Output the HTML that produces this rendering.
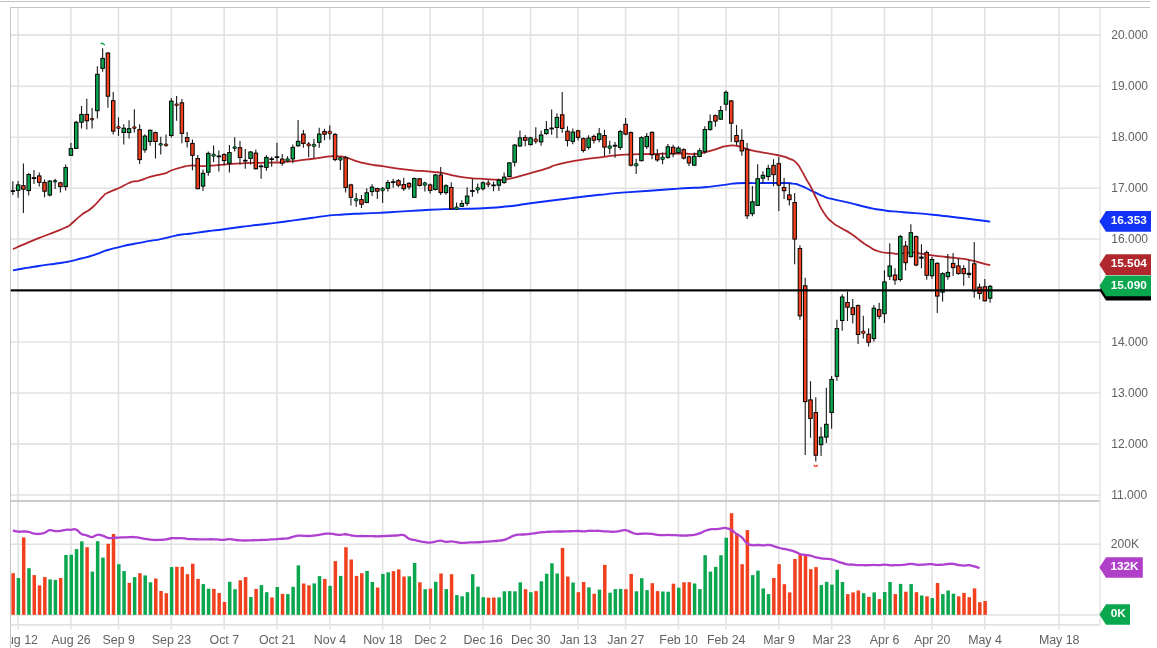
<!DOCTYPE html>
<html lang="en"><head><meta charset="utf-8"><title>Chart</title>
<style>html,body{margin:0;padding:0;background:#fff;overflow:hidden}body{width:1157px;height:648px}</style></head>
<body>
<svg width="1157" height="648" viewBox="0 0 1157 648" style="display:block;font-family:'Liberation Sans',sans-serif">
<rect width="1157" height="648" fill="#fff"/>
<rect x="0" y="1" width="1150" height="1" fill="#c6c6c6"/>
<g stroke="#e2e2e2" stroke-width="1.6">
<line x1="18.12" y1="8" x2="18.12" y2="629.6"/>
<line x1="70.94" y1="8" x2="70.94" y2="629.6"/>
<line x1="118.49" y1="8" x2="118.49" y2="629.6"/>
<line x1="171.31" y1="8" x2="171.31" y2="629.6"/>
<line x1="224.14" y1="8" x2="224.14" y2="629.6"/>
<line x1="276.96" y1="8" x2="276.96" y2="629.6"/>
<line x1="329.79" y1="8" x2="329.79" y2="629.6"/>
<line x1="382.61" y1="8" x2="382.61" y2="629.6"/>
<line x1="430.15" y1="8" x2="430.15" y2="629.6"/>
<line x1="482.98" y1="8" x2="482.98" y2="629.6"/>
<line x1="530.52" y1="8" x2="530.52" y2="629.6"/>
<line x1="578.06" y1="8" x2="578.06" y2="629.6"/>
<line x1="625.61" y1="8" x2="625.61" y2="629.6"/>
<line x1="678.43" y1="8" x2="678.43" y2="629.6"/>
<line x1="725.98" y1="8" x2="725.98" y2="629.6"/>
<line x1="778.8" y1="8" x2="778.8" y2="629.6"/>
<line x1="831.62" y1="8" x2="831.62" y2="629.6"/>
<line x1="884.45" y1="8" x2="884.45" y2="629.6"/>
<line x1="931.99" y1="8" x2="931.99" y2="629.6"/>
<line x1="984.82" y1="8" x2="984.82" y2="629.6"/>
<line x1="1059.0" y1="8" x2="1059.0" y2="629.6"/>
<line x1="10.5" y1="35.1" x2="1100" y2="35.1"/>
<line x1="10.5" y1="86.2" x2="1100" y2="86.2"/>
<line x1="10.5" y1="137.2" x2="1100" y2="137.2"/>
<line x1="10.5" y1="188.2" x2="1100" y2="188.2"/>
<line x1="10.5" y1="239.05" x2="1100" y2="239.05"/>
<line x1="10.5" y1="342.0" x2="1100" y2="342.0"/>
<line x1="10.5" y1="393" x2="1100" y2="393"/>
<line x1="10.5" y1="443.9" x2="1100" y2="443.9"/>
<line x1="10.5" y1="495.0" x2="1100" y2="495.0"/>
<line x1="10.5" y1="544.2" x2="1100" y2="544.2"/>
<line x1="10.5" y1="615" x2="1100" y2="615"/>
</g>
<g stroke="#c6c6c6" stroke-width="1" fill="none">
<line x1="10" y1="7.5" x2="1150" y2="7.5"/>
<line x1="10.5" y1="7" x2="10.5" y2="648"/>
<line x1="10" y1="501" x2="1100" y2="501" stroke-width="1.8" stroke="#cbcbcb"/>
</g>
<g stroke="#e2e2e2" stroke-width="1.3" fill="none">
<line x1="1100" y1="8" x2="1100" y2="625.3"/>
<line x1="10.5" y1="624.9" x2="1100" y2="624.9" stroke-width="1.8"/>
</g>
<defs><clipPath id="cp"><rect x="10.5" y="8" width="1089.5" height="617"/></clipPath></defs>
<g clip-path="url(#cp)">
<rect x="11.39" y="573.2" width="3.5" height="41.6" fill="#f0401e"/>
<rect x="16.67" y="578.0" width="3.5" height="36.8" fill="#0aa74f"/>
<rect x="21.95" y="537.4" width="3.5" height="77.4" fill="#f0401e"/>
<rect x="27.24" y="568.2" width="3.5" height="46.6" fill="#0aa74f"/>
<rect x="32.52" y="575.1" width="3.5" height="39.7" fill="#f0401e"/>
<rect x="37.80" y="585.4" width="3.5" height="29.4" fill="#f0401e"/>
<rect x="43.08" y="577.1" width="3.5" height="37.7" fill="#f0401e"/>
<rect x="48.36" y="579.4" width="3.5" height="35.4" fill="#0aa74f"/>
<rect x="53.65" y="579.9" width="3.5" height="34.9" fill="#0aa74f"/>
<rect x="58.93" y="578.0" width="3.5" height="36.8" fill="#f0401e"/>
<rect x="64.21" y="555.0" width="3.5" height="59.8" fill="#0aa74f"/>
<rect x="69.49" y="554.7" width="3.5" height="60.1" fill="#0aa74f"/>
<rect x="74.78" y="549.1" width="3.5" height="65.7" fill="#0aa74f"/>
<rect x="80.06" y="541.4" width="3.5" height="73.4" fill="#0aa74f"/>
<rect x="85.34" y="547.2" width="3.5" height="67.6" fill="#f0401e"/>
<rect x="90.62" y="571.6" width="3.5" height="43.2" fill="#0aa74f"/>
<rect x="95.91" y="541.2" width="3.5" height="73.6" fill="#0aa74f"/>
<rect x="101.19" y="557.6" width="3.5" height="57.2" fill="#0aa74f"/>
<rect x="106.47" y="543.8" width="3.5" height="71.0" fill="#f0401e"/>
<rect x="111.75" y="533.9" width="3.5" height="80.9" fill="#f0401e"/>
<rect x="117.04" y="564.2" width="3.5" height="50.6" fill="#0aa74f"/>
<rect x="122.32" y="571.1" width="3.5" height="43.7" fill="#0aa74f"/>
<rect x="127.60" y="582.8" width="3.5" height="32.0" fill="#f0401e"/>
<rect x="132.88" y="577.1" width="3.5" height="37.7" fill="#0aa74f"/>
<rect x="138.17" y="573.2" width="3.5" height="41.6" fill="#f0401e"/>
<rect x="143.45" y="575.4" width="3.5" height="39.4" fill="#0aa74f"/>
<rect x="148.73" y="582.3" width="3.5" height="32.5" fill="#0aa74f"/>
<rect x="154.02" y="578.5" width="3.5" height="36.3" fill="#f0401e"/>
<rect x="159.30" y="591.0" width="3.5" height="23.8" fill="#f0401e"/>
<rect x="164.58" y="593.2" width="3.5" height="21.6" fill="#f0401e"/>
<rect x="169.86" y="567.1" width="3.5" height="47.7" fill="#0aa74f"/>
<rect x="175.15" y="566.8" width="3.5" height="48.0" fill="#f0401e"/>
<rect x="180.43" y="566.8" width="3.5" height="48.0" fill="#f0401e"/>
<rect x="185.71" y="574.2" width="3.5" height="40.6" fill="#f0401e"/>
<rect x="190.99" y="563.7" width="3.5" height="51.1" fill="#f0401e"/>
<rect x="196.28" y="578.9" width="3.5" height="35.9" fill="#f0401e"/>
<rect x="201.56" y="584.1" width="3.5" height="30.7" fill="#0aa74f"/>
<rect x="206.84" y="588.7" width="3.5" height="26.1" fill="#0aa74f"/>
<rect x="212.12" y="588.9" width="3.5" height="25.9" fill="#f0401e"/>
<rect x="217.41" y="593.0" width="3.5" height="21.8" fill="#f0401e"/>
<rect x="222.69" y="601.9" width="3.5" height="12.9" fill="#f0401e"/>
<rect x="227.97" y="581.8" width="3.5" height="33.0" fill="#0aa74f"/>
<rect x="233.25" y="589.2" width="3.5" height="25.6" fill="#0aa74f"/>
<rect x="238.53" y="580.3" width="3.5" height="34.5" fill="#f0401e"/>
<rect x="243.82" y="577.1" width="3.5" height="37.7" fill="#f0401e"/>
<rect x="249.10" y="597.0" width="3.5" height="17.8" fill="#0aa74f"/>
<rect x="254.38" y="588.9" width="3.5" height="25.9" fill="#f0401e"/>
<rect x="259.66" y="585.1" width="3.5" height="29.7" fill="#0aa74f"/>
<rect x="264.95" y="592.2" width="3.5" height="22.6" fill="#0aa74f"/>
<rect x="270.23" y="597.4" width="3.5" height="17.4" fill="#f0401e"/>
<rect x="275.51" y="587.0" width="3.5" height="27.8" fill="#0aa74f"/>
<rect x="280.80" y="593.9" width="3.5" height="20.9" fill="#f0401e"/>
<rect x="286.08" y="594.1" width="3.5" height="20.7" fill="#0aa74f"/>
<rect x="291.36" y="586.8" width="3.5" height="28.0" fill="#0aa74f"/>
<rect x="296.64" y="565.4" width="3.5" height="49.4" fill="#0aa74f"/>
<rect x="301.93" y="583.5" width="3.5" height="31.3" fill="#f0401e"/>
<rect x="307.21" y="585.3" width="3.5" height="29.5" fill="#f0401e"/>
<rect x="312.49" y="583.4" width="3.5" height="31.4" fill="#0aa74f"/>
<rect x="317.77" y="576.1" width="3.5" height="38.7" fill="#0aa74f"/>
<rect x="323.06" y="578.9" width="3.5" height="35.9" fill="#f0401e"/>
<rect x="328.34" y="585.8" width="3.5" height="29.0" fill="#0aa74f"/>
<rect x="333.62" y="561.1" width="3.5" height="53.7" fill="#f0401e"/>
<rect x="338.90" y="575.9" width="3.5" height="38.9" fill="#0aa74f"/>
<rect x="344.19" y="547.2" width="3.5" height="67.6" fill="#f0401e"/>
<rect x="349.47" y="559.5" width="3.5" height="55.3" fill="#f0401e"/>
<rect x="354.75" y="575.9" width="3.5" height="38.9" fill="#f0401e"/>
<rect x="360.03" y="573.2" width="3.5" height="41.6" fill="#f0401e"/>
<rect x="365.31" y="570.9" width="3.5" height="43.9" fill="#0aa74f"/>
<rect x="370.60" y="582.0" width="3.5" height="32.8" fill="#0aa74f"/>
<rect x="375.88" y="587.5" width="3.5" height="27.3" fill="#f0401e"/>
<rect x="381.16" y="573.9" width="3.5" height="40.9" fill="#0aa74f"/>
<rect x="386.44" y="572.3" width="3.5" height="42.5" fill="#0aa74f"/>
<rect x="391.73" y="571.1" width="3.5" height="43.7" fill="#f0401e"/>
<rect x="397.01" y="569.4" width="3.5" height="45.4" fill="#f0401e"/>
<rect x="402.29" y="576.5" width="3.5" height="38.3" fill="#f0401e"/>
<rect x="407.57" y="576.3" width="3.5" height="38.5" fill="#0aa74f"/>
<rect x="412.86" y="563.0" width="3.5" height="51.8" fill="#0aa74f"/>
<rect x="418.14" y="582.3" width="3.5" height="32.5" fill="#f0401e"/>
<rect x="423.42" y="589.2" width="3.5" height="25.6" fill="#0aa74f"/>
<rect x="428.70" y="588.6" width="3.5" height="26.2" fill="#f0401e"/>
<rect x="433.99" y="581.8" width="3.5" height="33.0" fill="#0aa74f"/>
<rect x="439.27" y="573.5" width="3.5" height="41.3" fill="#f0401e"/>
<rect x="444.55" y="589.1" width="3.5" height="25.7" fill="#0aa74f"/>
<rect x="449.83" y="574.2" width="3.5" height="40.6" fill="#f0401e"/>
<rect x="455.12" y="595.1" width="3.5" height="19.7" fill="#0aa74f"/>
<rect x="460.40" y="596.3" width="3.5" height="18.5" fill="#0aa74f"/>
<rect x="465.68" y="592.2" width="3.5" height="22.6" fill="#0aa74f"/>
<rect x="470.96" y="574.2" width="3.5" height="40.6" fill="#0aa74f"/>
<rect x="476.25" y="586.7" width="3.5" height="28.1" fill="#0aa74f"/>
<rect x="481.53" y="597.2" width="3.5" height="17.6" fill="#0aa74f"/>
<rect x="486.81" y="597.7" width="3.5" height="17.1" fill="#f0401e"/>
<rect x="492.09" y="597.5" width="3.5" height="17.3" fill="#f0401e"/>
<rect x="497.38" y="597.4" width="3.5" height="17.4" fill="#0aa74f"/>
<rect x="502.66" y="591.3" width="3.5" height="23.5" fill="#0aa74f"/>
<rect x="507.94" y="591.1" width="3.5" height="23.7" fill="#0aa74f"/>
<rect x="513.22" y="591.3" width="3.5" height="23.5" fill="#0aa74f"/>
<rect x="518.51" y="582.3" width="3.5" height="32.5" fill="#0aa74f"/>
<rect x="523.79" y="589.2" width="3.5" height="25.6" fill="#f0401e"/>
<rect x="529.07" y="592.2" width="3.5" height="22.6" fill="#0aa74f"/>
<rect x="534.35" y="591.1" width="3.5" height="23.7" fill="#f0401e"/>
<rect x="539.64" y="581.3" width="3.5" height="33.5" fill="#0aa74f"/>
<rect x="544.92" y="573.7" width="3.5" height="41.1" fill="#0aa74f"/>
<rect x="550.20" y="563.3" width="3.5" height="51.5" fill="#0aa74f"/>
<rect x="555.48" y="573.5" width="3.5" height="41.3" fill="#0aa74f"/>
<rect x="560.77" y="547.9" width="3.5" height="66.9" fill="#f0401e"/>
<rect x="566.05" y="576.5" width="3.5" height="38.3" fill="#f0401e"/>
<rect x="571.33" y="582.5" width="3.5" height="32.3" fill="#0aa74f"/>
<rect x="576.61" y="592.2" width="3.5" height="22.6" fill="#f0401e"/>
<rect x="581.90" y="582.0" width="3.5" height="32.8" fill="#f0401e"/>
<rect x="587.18" y="587.3" width="3.5" height="27.5" fill="#0aa74f"/>
<rect x="592.46" y="593.7" width="3.5" height="21.1" fill="#f0401e"/>
<rect x="597.74" y="589.6" width="3.5" height="25.2" fill="#0aa74f"/>
<rect x="603.03" y="564.9" width="3.5" height="49.9" fill="#f0401e"/>
<rect x="608.31" y="592.7" width="3.5" height="22.1" fill="#0aa74f"/>
<rect x="613.59" y="589.1" width="3.5" height="25.7" fill="#0aa74f"/>
<rect x="618.87" y="588.9" width="3.5" height="25.9" fill="#0aa74f"/>
<rect x="624.16" y="589.2" width="3.5" height="25.6" fill="#f0401e"/>
<rect x="629.44" y="573.9" width="3.5" height="40.9" fill="#f0401e"/>
<rect x="634.72" y="591.3" width="3.5" height="23.5" fill="#0aa74f"/>
<rect x="640.00" y="578.2" width="3.5" height="36.6" fill="#0aa74f"/>
<rect x="645.29" y="590.1" width="3.5" height="24.7" fill="#0aa74f"/>
<rect x="650.57" y="583.2" width="3.5" height="31.6" fill="#f0401e"/>
<rect x="655.85" y="591.1" width="3.5" height="23.7" fill="#f0401e"/>
<rect x="661.13" y="591.5" width="3.5" height="23.3" fill="#0aa74f"/>
<rect x="666.42" y="591.7" width="3.5" height="23.1" fill="#0aa74f"/>
<rect x="671.70" y="583.7" width="3.5" height="31.1" fill="#f0401e"/>
<rect x="676.98" y="587.7" width="3.5" height="27.1" fill="#0aa74f"/>
<rect x="682.26" y="582.3" width="3.5" height="32.5" fill="#f0401e"/>
<rect x="687.55" y="582.2" width="3.5" height="32.6" fill="#f0401e"/>
<rect x="692.83" y="583.5" width="3.5" height="31.3" fill="#0aa74f"/>
<rect x="698.11" y="589.1" width="3.5" height="25.7" fill="#0aa74f"/>
<rect x="703.39" y="555.2" width="3.5" height="59.6" fill="#0aa74f"/>
<rect x="708.68" y="571.6" width="3.5" height="43.2" fill="#0aa74f"/>
<rect x="713.96" y="566.8" width="3.5" height="48.0" fill="#0aa74f"/>
<rect x="719.24" y="555.2" width="3.5" height="59.6" fill="#0aa74f"/>
<rect x="724.52" y="537.7" width="3.5" height="77.1" fill="#0aa74f"/>
<rect x="729.81" y="513.2" width="3.5" height="101.6" fill="#f0401e"/>
<rect x="735.09" y="533.4" width="3.5" height="81.4" fill="#f0401e"/>
<rect x="740.37" y="564.2" width="3.5" height="50.6" fill="#f0401e"/>
<rect x="745.65" y="530.1" width="3.5" height="84.7" fill="#f0401e"/>
<rect x="750.94" y="575.1" width="3.5" height="39.7" fill="#0aa74f"/>
<rect x="756.22" y="570.6" width="3.5" height="44.2" fill="#0aa74f"/>
<rect x="761.50" y="588.4" width="3.5" height="26.4" fill="#0aa74f"/>
<rect x="766.78" y="594.1" width="3.5" height="20.7" fill="#0aa74f"/>
<rect x="772.07" y="578.0" width="3.5" height="36.8" fill="#f0401e"/>
<rect x="777.35" y="564.2" width="3.5" height="50.6" fill="#f0401e"/>
<rect x="782.63" y="584.2" width="3.5" height="30.6" fill="#f0401e"/>
<rect x="787.91" y="592.4" width="3.5" height="22.4" fill="#f0401e"/>
<rect x="793.20" y="559.0" width="3.5" height="55.8" fill="#f0401e"/>
<rect x="798.48" y="554.7" width="3.5" height="60.1" fill="#f0401e"/>
<rect x="803.76" y="555.5" width="3.5" height="59.3" fill="#f0401e"/>
<rect x="809.04" y="569.2" width="3.5" height="45.6" fill="#f0401e"/>
<rect x="814.33" y="567.1" width="3.5" height="47.7" fill="#f0401e"/>
<rect x="819.61" y="585.1" width="3.5" height="29.7" fill="#0aa74f"/>
<rect x="824.89" y="581.8" width="3.5" height="33.0" fill="#0aa74f"/>
<rect x="830.17" y="584.6" width="3.5" height="30.2" fill="#0aa74f"/>
<rect x="835.46" y="569.7" width="3.5" height="45.1" fill="#0aa74f"/>
<rect x="840.74" y="582.0" width="3.5" height="32.8" fill="#0aa74f"/>
<rect x="846.02" y="594.1" width="3.5" height="20.7" fill="#f0401e"/>
<rect x="851.30" y="592.4" width="3.5" height="22.4" fill="#f0401e"/>
<rect x="856.59" y="590.5" width="3.5" height="24.3" fill="#f0401e"/>
<rect x="861.87" y="593.2" width="3.5" height="21.6" fill="#0aa74f"/>
<rect x="867.15" y="596.9" width="3.5" height="17.9" fill="#f0401e"/>
<rect x="872.43" y="592.4" width="3.5" height="22.4" fill="#0aa74f"/>
<rect x="877.72" y="599.1" width="3.5" height="15.7" fill="#f0401e"/>
<rect x="883.00" y="592.0" width="3.5" height="22.8" fill="#0aa74f"/>
<rect x="888.28" y="582.0" width="3.5" height="32.8" fill="#0aa74f"/>
<rect x="893.56" y="594.1" width="3.5" height="20.7" fill="#f0401e"/>
<rect x="898.85" y="583.9" width="3.5" height="30.9" fill="#0aa74f"/>
<rect x="904.13" y="591.7" width="3.5" height="23.1" fill="#f0401e"/>
<rect x="909.41" y="584.1" width="3.5" height="30.7" fill="#0aa74f"/>
<rect x="914.69" y="592.2" width="3.5" height="22.6" fill="#f0401e"/>
<rect x="919.98" y="595.5" width="3.5" height="19.3" fill="#0aa74f"/>
<rect x="925.26" y="596.3" width="3.5" height="18.5" fill="#f0401e"/>
<rect x="930.54" y="598.1" width="3.5" height="16.7" fill="#0aa74f"/>
<rect x="935.82" y="583.0" width="3.5" height="31.8" fill="#f0401e"/>
<rect x="941.11" y="594.1" width="3.5" height="20.7" fill="#0aa74f"/>
<rect x="946.39" y="590.5" width="3.5" height="24.3" fill="#0aa74f"/>
<rect x="951.67" y="593.7" width="3.5" height="21.1" fill="#0aa74f"/>
<rect x="956.95" y="596.3" width="3.5" height="18.5" fill="#f0401e"/>
<rect x="962.24" y="592.9" width="3.5" height="21.9" fill="#f0401e"/>
<rect x="967.52" y="597.2" width="3.5" height="17.6" fill="#f0401e"/>
<rect x="972.80" y="588.4" width="3.5" height="26.4" fill="#f0401e"/>
<rect x="978.08" y="602.2" width="3.5" height="12.6" fill="#f0401e"/>
<rect x="983.37" y="601.0" width="3.5" height="13.8" fill="#f0401e"/>
<path d="M12.84,530.47 C14.25,530.79 15.30,531.41 18.12,531.68 C20.94,531.96 20.59,531.46 23.40,531.51 C26.22,531.56 25.87,531.30 28.69,531.85 C31.50,532.41 31.15,533.03 33.97,533.58 C36.78,534.14 36.43,534.16 39.25,533.93 C42.07,533.70 41.72,533.73 44.53,532.72 C47.35,531.70 47.00,530.54 49.81,530.13 C52.63,529.71 52.28,530.98 55.10,531.16 C57.91,531.35 57.56,531.19 60.38,530.82 C63.20,530.45 62.85,530.06 65.66,529.78 C68.48,529.50 68.13,529.83 70.94,529.78 C73.76,529.73 73.41,528.50 76.23,529.61 C79.04,530.71 78.69,532.41 81.51,533.93 C84.33,535.45 83.98,534.48 86.79,535.31 C89.61,536.14 89.26,537.18 92.08,537.04 C94.89,536.90 94.54,535.16 97.36,534.79 C100.17,534.42 99.82,534.83 102.64,535.66 C105.46,536.49 105.11,537.31 107.92,537.90 C110.74,538.50 110.39,538.00 113.20,537.90 C116.02,537.81 115.67,537.70 118.49,537.56 C121.30,537.42 120.95,537.48 123.77,537.39 C126.59,537.29 126.24,537.31 129.05,537.21 C131.87,537.12 131.52,536.86 134.33,537.04 C137.15,537.23 136.80,537.44 139.62,537.90 C142.43,538.37 142.08,538.31 144.90,538.77 C147.72,539.23 147.37,539.31 150.18,539.63 C153.00,539.96 152.65,539.93 155.47,539.98 C158.28,540.03 157.93,539.94 160.75,539.81 C163.56,539.67 163.21,539.88 166.03,539.46 C168.85,539.05 168.50,538.57 171.31,538.25 C174.13,537.93 173.78,538.30 176.59,538.25 C179.41,538.20 179.06,537.94 181.88,538.08 C184.69,538.22 184.34,538.49 187.16,538.77 C189.98,539.05 189.63,538.98 192.44,539.11 C195.26,539.25 194.91,539.20 197.72,539.29 C200.54,539.38 200.19,539.46 203.01,539.46 C205.82,539.46 205.47,539.33 208.29,539.29 C211.11,539.24 210.76,539.20 213.57,539.29 C216.39,539.38 216.04,539.50 218.85,539.63 C221.67,539.77 221.32,539.94 224.14,539.81 C226.95,539.67 226.60,539.11 229.42,539.11 C232.24,539.11 231.89,539.48 234.70,539.81 C237.52,540.13 237.17,540.14 239.98,540.32 C242.80,540.51 242.45,540.50 245.27,540.50 C248.08,540.50 247.73,540.42 250.55,540.32 C253.37,540.23 253.02,540.24 255.83,540.15 C258.65,540.06 258.30,540.07 261.11,539.98 C263.93,539.89 263.58,539.94 266.40,539.81 C269.21,539.67 268.86,539.65 271.68,539.46 C274.50,539.28 274.15,539.30 276.96,539.11 C279.78,538.93 279.43,538.95 282.25,538.77 C285.06,538.58 284.71,538.93 287.53,538.42 C290.34,537.92 289.99,537.61 292.81,536.87 C295.63,536.13 295.28,535.93 298.09,535.66 C300.91,535.38 300.56,535.74 303.38,535.83 C306.19,535.92 305.84,536.05 308.66,536.00 C311.47,535.96 311.12,535.98 313.94,535.66 C316.76,535.34 316.41,535.25 319.22,534.79 C322.04,534.33 321.69,534.25 324.50,533.93 C327.32,533.61 326.97,533.49 329.79,533.58 C332.60,533.68 332.25,533.95 335.07,534.27 C337.89,534.60 337.54,534.79 340.35,534.79 C343.17,534.79 342.82,534.14 345.63,534.27 C348.45,534.41 348.10,534.80 350.92,535.31 C353.73,535.82 353.38,535.99 356.20,536.18 C359.02,536.36 358.67,536.00 361.48,536.00 C364.30,536.00 363.95,536.13 366.76,536.18 C369.58,536.22 369.23,536.13 372.05,536.18 C374.86,536.22 374.51,536.35 377.33,536.35 C380.15,536.35 379.80,536.31 382.61,536.18 C385.43,536.04 385.08,535.97 387.89,535.83 C390.71,535.69 390.36,535.80 393.18,535.66 C395.99,535.52 395.64,535.45 398.46,535.31 C401.28,535.17 400.93,534.22 403.74,535.14 C406.56,536.06 406.21,537.48 409.02,538.77 C411.84,540.06 411.49,539.33 414.31,539.98 C417.12,540.62 416.77,540.64 419.59,541.19 C422.41,541.74 422.06,541.68 424.87,542.05 C427.69,542.42 427.34,542.71 430.15,542.57 C432.97,542.43 432.62,542.04 435.44,541.54 C438.25,541.03 437.90,540.58 440.72,540.67 C443.54,540.76 443.19,541.70 446.00,541.88 C448.82,542.07 448.47,541.27 451.28,541.36 C454.10,541.45 453.75,541.81 456.57,542.23 C459.38,542.64 459.03,542.83 461.85,542.92 C464.67,543.01 464.32,542.71 467.13,542.57 C469.95,542.43 469.60,542.49 472.41,542.40 C475.23,542.31 474.88,542.36 477.70,542.23 C480.51,542.09 480.16,542.07 482.98,541.88 C485.80,541.70 485.45,541.72 488.26,541.54 C491.08,541.35 490.73,541.42 493.54,541.19 C496.36,540.96 496.01,540.99 498.83,540.67 C501.64,540.35 501.29,540.76 504.11,539.98 C506.93,539.20 506.58,538.98 509.39,537.73 C512.21,536.49 511.86,536.14 514.67,535.31 C517.49,534.48 517.14,534.85 519.96,534.62 C522.77,534.39 522.42,534.63 525.24,534.45 C528.06,534.26 527.71,534.30 530.52,533.93 C533.34,533.56 532.99,533.48 535.80,533.06 C538.62,532.65 538.27,532.70 541.09,532.37 C543.90,532.05 543.55,532.04 546.37,531.85 C549.19,531.67 548.84,531.77 551.65,531.68 C554.47,531.59 554.12,531.56 556.93,531.51 C559.75,531.46 559.40,531.56 562.22,531.51 C565.03,531.46 564.68,531.43 567.50,531.34 C570.32,531.24 569.97,531.26 572.78,531.16 C575.60,531.07 575.25,530.94 578.06,530.99 C580.88,531.04 580.53,531.38 583.35,531.34 C586.16,531.29 585.81,530.96 588.63,530.82 C591.45,530.68 591.10,530.82 593.91,530.82 C596.73,530.82 596.38,530.68 599.19,530.82 C602.01,530.96 601.66,531.11 604.48,531.34 C607.29,531.57 606.94,531.59 609.76,531.68 C612.58,531.77 612.23,531.91 615.04,531.68 C617.86,531.45 617.51,531.23 620.32,530.82 C623.14,530.40 622.79,529.76 625.61,530.13 C628.42,530.49 628.07,531.19 630.89,532.20 C633.71,533.21 633.36,533.51 636.17,533.93 C638.99,534.34 638.64,533.85 641.45,533.76 C644.27,533.66 643.92,533.54 646.74,533.58 C649.55,533.63 649.20,533.61 652.02,533.93 C654.84,534.25 654.49,534.47 657.30,534.79 C660.12,535.12 659.77,535.09 662.58,535.14 C665.40,535.19 665.05,534.97 667.87,534.97 C670.68,534.97 670.33,535.05 673.15,535.14 C675.97,535.23 675.62,535.17 678.43,535.31 C681.25,535.45 680.90,535.66 683.71,535.66 C686.53,535.66 686.18,535.54 689.00,535.31 C691.81,535.08 691.46,535.30 694.28,534.79 C697.10,534.29 696.75,534.42 699.56,533.41 C702.38,532.40 702.03,532.10 704.85,530.99 C707.66,529.88 707.31,529.77 710.13,529.26 C712.94,528.75 712.59,529.27 715.41,529.09 C718.23,528.90 717.88,528.85 720.69,528.57 C723.51,528.29 723.16,527.68 725.98,528.05 C728.79,528.42 728.44,528.39 731.26,529.95 C734.07,531.52 733.72,531.95 736.54,533.93 C739.36,535.91 739.01,534.85 741.82,537.39 C744.64,539.92 744.29,541.36 747.11,543.44 C749.92,545.51 749.57,544.75 752.39,545.17 C755.20,545.58 754.85,544.95 757.67,544.99 C760.49,545.04 760.14,545.38 762.95,545.34 C765.77,545.29 765.42,544.63 768.24,544.82 C771.05,545.00 770.70,545.25 773.52,546.03 C776.33,546.81 775.98,546.97 778.80,547.76 C781.62,548.54 781.27,548.37 784.08,548.97 C786.90,549.57 786.55,549.31 789.37,550.01 C792.18,550.70 791.83,550.50 794.65,551.56 C797.46,552.62 797.11,553.11 799.93,553.98 C802.75,554.86 802.40,554.38 805.21,554.85 C808.03,555.31 807.68,555.06 810.50,555.71 C813.31,556.35 812.96,556.57 815.78,557.27 C818.59,557.96 818.24,557.89 821.06,558.30 C823.88,558.72 823.53,558.54 826.34,558.82 C829.16,559.10 828.81,558.69 831.62,559.34 C834.44,559.99 834.09,560.27 836.91,561.24 C839.72,562.21 839.37,562.14 842.19,562.97 C845.01,563.80 844.66,563.94 847.47,564.35 C850.29,564.77 849.94,564.34 852.75,564.53 C855.57,564.71 855.22,564.86 858.04,565.04 C860.85,565.23 860.50,565.17 863.32,565.22 C866.14,565.26 865.79,565.31 868.60,565.22 C871.42,565.12 871.07,564.87 873.88,564.87 C876.70,564.87 876.35,565.26 879.17,565.22 C881.98,565.17 881.63,564.70 884.45,564.70 C887.27,564.70 886.92,565.08 889.73,565.22 C892.55,565.36 892.20,565.26 895.01,565.22 C897.83,565.17 897.48,565.18 900.30,565.04 C903.11,564.91 902.76,565.02 905.58,564.70 C908.40,564.38 908.05,563.83 910.86,563.83 C913.68,563.83 913.33,564.47 916.14,564.70 C918.96,564.93 918.61,564.79 921.43,564.70 C924.24,564.61 923.89,564.49 926.71,564.35 C929.53,564.21 929.18,564.04 931.99,564.18 C934.81,564.32 934.46,564.78 937.27,564.87 C940.09,564.96 939.74,564.76 942.56,564.53 C945.37,564.30 945.02,564.19 947.84,564.01 C950.66,563.82 950.31,563.56 953.12,563.83 C955.94,564.11 955.59,564.58 958.40,565.04 C961.22,565.51 960.87,565.52 963.69,565.56 C966.50,565.61 966.15,564.99 968.97,565.22 C971.79,565.45 971.44,565.69 974.25,566.43 C977.07,567.16 978.13,567.57 979.53,567.98" fill="none" stroke="#b040d0" stroke-width="2.3" stroke-linejoin="round" stroke-linecap="butt"/>
<path d="M13.00,270.30 C16.40,269.70 16.23,269.67 23.20,268.50 C30.17,267.33 26.83,267.93 33.90,266.80 C40.97,265.67 37.37,266.13 44.40,265.10 C51.43,264.07 47.97,264.70 55.00,263.70 C62.03,262.70 60.20,262.97 65.50,262.10 C70.80,261.23 65.67,262.30 70.90,261.10 C76.13,259.90 74.17,260.33 81.20,258.50 C88.23,256.67 84.90,257.83 92.00,255.60 C99.10,253.37 97.27,253.67 102.50,251.80 C107.73,249.93 102.40,251.50 107.70,250.00 C113.00,248.50 111.30,249.03 118.40,247.30 C125.50,245.57 121.97,246.27 129.00,244.80 C136.03,243.33 132.50,244.20 139.50,242.90 C146.50,241.60 142.90,242.17 150.00,240.90 C157.10,239.63 153.70,240.53 160.80,239.10 C167.90,237.67 164.30,238.13 171.30,236.60 C178.30,235.07 175.57,235.47 181.80,234.50 C188.03,233.53 181.50,234.77 190.00,233.70 C198.50,232.63 195.97,232.77 207.30,231.30 C218.63,229.83 212.47,230.80 224.00,229.30 C235.53,227.80 230.20,228.33 241.90,226.80 C253.60,225.27 247.47,226.10 259.10,224.70 C270.73,223.30 265.27,224.03 276.80,222.60 C288.33,221.17 282.30,221.93 293.70,220.40 C305.10,218.87 299.00,219.67 311.00,218.00 C323.00,216.33 319.90,216.50 329.70,215.40 C339.50,214.30 332.23,215.23 340.40,214.70 C348.57,214.17 343.83,214.33 354.20,213.80 C364.57,213.27 359.57,213.63 371.50,213.10 C383.43,212.57 370.50,213.33 390.00,212.20 C409.50,211.07 408.33,210.80 430.00,209.70 C451.67,208.60 437.33,209.40 455.00,208.90 C472.67,208.40 465.10,209.07 483.00,208.20 C500.90,207.33 492.83,207.93 508.70,206.30 C524.57,204.67 513.50,205.57 530.60,203.30 C547.70,201.03 544.20,201.50 560.00,199.50 C575.80,197.50 564.67,198.87 578.00,197.30 C591.33,195.73 584.13,196.43 600.00,194.80 C615.87,193.17 599.50,194.47 625.60,192.40 C651.70,190.33 652.10,190.33 678.30,188.60 C704.50,186.87 688.20,188.53 704.20,187.20 C720.20,185.87 715.27,185.90 726.30,184.60 C737.33,183.30 726.73,183.80 737.30,183.30 C747.87,182.80 744.00,183.20 758.00,183.10 C772.00,183.00 767.77,182.83 779.30,183.00 C790.83,183.17 785.30,182.63 792.60,183.60 C799.90,184.57 794.30,183.23 801.20,185.90 C808.10,188.57 805.80,188.13 813.30,191.60 C820.80,195.07 817.53,193.87 823.70,196.30 C829.87,198.73 823.17,196.73 831.80,198.90 C840.43,201.07 837.90,200.03 849.60,202.80 C861.30,205.57 855.23,204.67 866.90,207.20 C878.57,209.73 872.50,208.73 884.60,210.40 C896.70,212.07 887.20,210.77 903.20,212.20 C919.20,213.63 912.43,212.67 932.60,214.70 C952.77,216.73 944.50,216.00 963.70,218.30 C982.90,220.60 981.37,220.50 990.20,221.60" fill="none" stroke="#0c2cf8" stroke-width="1.9" stroke-linejoin="round" stroke-linecap="butt"/>
<path d="M13.00,249.20 C16.40,247.70 16.23,247.73 23.20,244.70 C30.17,241.67 26.83,243.00 33.90,240.10 C40.97,237.20 37.37,238.77 44.40,236.00 C51.43,233.23 47.97,234.63 55.00,231.80 C62.03,228.97 60.20,230.03 65.50,227.50 C70.80,224.97 65.67,228.33 70.90,224.20 C76.13,220.07 74.17,220.60 81.20,215.10 C88.23,209.60 84.90,213.80 92.00,207.70 C99.10,201.60 97.27,201.77 102.50,196.80 C107.73,191.83 102.40,195.67 107.70,192.80 C113.00,189.93 111.30,191.47 118.40,188.20 C125.50,184.93 123.77,185.27 129.00,183.00 C134.23,180.73 130.60,182.17 134.10,181.40 C137.60,180.63 134.20,182.20 139.50,180.70 C144.80,179.20 142.90,179.03 150.00,176.90 C157.10,174.77 155.47,175.57 160.80,174.30 C166.13,173.03 162.50,174.37 166.00,173.10 C169.50,171.83 166.30,172.37 171.30,170.50 C176.30,168.63 174.77,169.13 181.00,167.50 C187.23,165.87 184.13,166.13 190.00,165.60 C195.87,165.07 192.83,165.80 198.60,165.90 C204.37,166.00 198.83,166.30 207.30,165.90 C215.77,165.50 212.47,165.57 224.00,164.70 C235.53,163.83 230.20,163.93 241.90,163.30 C253.60,162.67 247.47,163.07 259.10,162.80 C270.73,162.53 267.57,162.90 276.80,162.50 C286.03,162.10 281.17,162.07 286.80,161.60 C292.43,161.13 285.63,161.97 293.70,161.10 C301.77,160.23 299.00,160.57 311.00,159.00 C323.00,157.43 321.07,157.27 329.70,156.40 C338.33,155.53 331.60,156.10 336.90,156.40 C342.20,156.70 339.83,155.97 345.60,157.30 C351.37,158.63 348.43,158.57 354.20,160.40 C359.97,162.23 357.13,161.37 362.90,162.80 C368.67,164.23 364.97,163.57 371.50,164.70 C378.03,165.83 370.77,164.57 382.50,166.20 C394.23,167.83 390.87,167.77 406.70,169.60 C422.53,171.43 417.90,170.53 430.00,171.70 C442.10,172.87 434.07,171.60 443.00,173.10 C451.93,174.60 447.00,174.47 456.80,176.20 C466.60,177.93 463.67,177.43 472.40,178.30 C481.13,179.17 474.37,178.33 483.00,178.80 C491.63,179.27 489.73,179.70 498.30,179.70 C506.87,179.70 497.93,181.00 508.70,178.80 C519.47,176.60 517.93,176.57 530.60,173.10 C543.27,169.63 537.80,171.20 546.70,168.40 C555.60,165.60 546.87,167.37 557.30,164.70 C567.73,162.03 563.60,162.87 578.00,160.40 C592.40,157.93 584.63,159.20 600.50,157.30 C616.37,155.40 608.30,155.80 625.60,154.70 C642.90,153.60 634.83,154.40 652.40,154.00 C669.97,153.60 663.90,153.50 678.30,153.50 C692.70,153.50 686.80,154.40 695.60,154.00 C704.40,153.60 697.80,153.93 704.70,152.30 C711.60,150.67 709.10,151.13 716.30,149.10 C723.50,147.07 719.30,147.23 726.30,146.20 C733.30,145.17 730.37,145.03 737.30,146.00 C744.23,146.97 740.20,147.20 747.10,149.10 C754.00,151.00 747.27,149.57 758.00,151.70 C768.73,153.83 768.93,153.17 779.30,155.50 C789.67,157.83 783.50,156.33 789.10,158.70 C794.70,161.07 792.07,158.87 796.10,162.60 C800.13,166.33 797.77,164.30 801.20,169.90 C804.63,175.50 802.93,173.23 806.40,179.40 C809.87,185.57 808.13,181.73 811.60,188.40 C815.07,195.07 812.77,191.40 816.80,199.40 C820.83,207.40 818.70,204.90 823.70,212.40 C828.70,219.90 826.03,216.73 831.80,221.90 C837.57,227.07 834.47,223.87 841.00,227.90 C847.53,231.93 844.50,229.40 851.40,234.00 C858.30,238.60 855.97,237.60 861.70,241.70 C867.43,245.80 862.83,243.03 868.60,246.30 C874.37,249.57 871.50,249.20 879.00,251.50 C886.50,253.80 884.17,252.47 891.10,253.20 C898.03,253.93 892.87,253.97 899.80,253.70 C906.73,253.43 905.00,252.43 911.90,252.40 C918.80,252.37 913.60,252.63 920.50,253.60 C927.40,254.57 923.97,254.17 932.60,255.30 C941.23,256.43 937.77,255.97 946.40,257.00 C955.03,258.03 951.00,257.47 958.50,258.40 C966.00,259.33 962.57,258.63 968.90,259.80 C975.23,260.97 972.03,260.47 977.50,261.90 C982.97,263.33 981.07,263.07 985.30,264.10 C989.53,265.13 988.57,264.70 990.20,265.00" fill="none" stroke="#b0262b" stroke-width="1.8" stroke-linejoin="round" stroke-linecap="butt"/>
<line x1="12.84" y1="181.2" x2="12.84" y2="195.0" stroke="#1a1a1a" stroke-width="1.1"/>
<rect x="10.59" y="190.2" width="4.5" height="1.7" fill="#000"/>
<line x1="18.12" y1="180.9" x2="18.12" y2="197.8" stroke="#1a1a1a" stroke-width="1.1"/>
<rect x="16.37" y="184.90" width="3.50" height="5.50" fill="#0aa74f" stroke="#000" stroke-width="1.0"/>
<line x1="23.40" y1="163.6" x2="23.40" y2="212.9" stroke="#1a1a1a" stroke-width="1.1"/>
<rect x="21.65" y="185.70" width="3.50" height="3.50" fill="#f0401e" stroke="#000" stroke-width="1.0"/>
<line x1="28.69" y1="173.1" x2="28.69" y2="195.6" stroke="#1a1a1a" stroke-width="1.1"/>
<rect x="26.94" y="174.50" width="3.50" height="16.10" fill="#0aa74f" stroke="#000" stroke-width="1.0"/>
<line x1="33.97" y1="170.0" x2="33.97" y2="184.0" stroke="#1a1a1a" stroke-width="1.1"/>
<rect x="31.72" y="177.2" width="4.5" height="1.8" fill="#000"/>
<line x1="39.25" y1="172.6" x2="39.25" y2="186.4" stroke="#1a1a1a" stroke-width="1.1"/>
<rect x="37.50" y="175.90" width="3.50" height="6.40" fill="#f0401e" stroke="#000" stroke-width="1.0"/>
<line x1="44.53" y1="179.5" x2="44.53" y2="197.3" stroke="#1a1a1a" stroke-width="1.1"/>
<rect x="42.78" y="182.50" width="3.50" height="8.70" fill="#f0401e" stroke="#000" stroke-width="1.0"/>
<line x1="49.81" y1="180.0" x2="49.81" y2="196.4" stroke="#1a1a1a" stroke-width="1.1"/>
<rect x="48.06" y="181.10" width="3.50" height="13.90" fill="#0aa74f" stroke="#000" stroke-width="1.0"/>
<line x1="55.10" y1="178.8" x2="55.10" y2="189.0" stroke="#1a1a1a" stroke-width="1.1"/>
<rect x="53.27" y="180.53" width="3.65" height="1.35" rx="0.9" fill="#0aa74f" stroke="#000" stroke-width="0.85"/>
<line x1="60.38" y1="181.7" x2="60.38" y2="192.6" stroke="#1a1a1a" stroke-width="1.1"/>
<rect x="58.63" y="182.80" width="3.50" height="3.80" fill="#f0401e" stroke="#000" stroke-width="1.0"/>
<line x1="65.66" y1="164.5" x2="65.66" y2="190.4" stroke="#1a1a1a" stroke-width="1.1"/>
<rect x="63.91" y="167.60" width="3.50" height="19.00" fill="#0aa74f" stroke="#000" stroke-width="1.0"/>
<line x1="70.94" y1="142.8" x2="70.94" y2="155.8" stroke="#1a1a1a" stroke-width="1.1"/>
<rect x="69.19" y="148.60" width="3.50" height="6.70" fill="#0aa74f" stroke="#000" stroke-width="1.0"/>
<line x1="76.23" y1="120.7" x2="76.23" y2="148.9" stroke="#1a1a1a" stroke-width="1.1"/>
<rect x="74.48" y="122.30" width="3.50" height="26.10" fill="#0aa74f" stroke="#000" stroke-width="1.0"/>
<line x1="81.51" y1="106.1" x2="81.51" y2="128.5" stroke="#1a1a1a" stroke-width="1.1"/>
<rect x="79.76" y="114.40" width="3.50" height="7.80" fill="#0aa74f" stroke="#000" stroke-width="1.0"/>
<line x1="86.79" y1="98.8" x2="86.79" y2="129.4" stroke="#1a1a1a" stroke-width="1.1"/>
<rect x="85.04" y="114.40" width="3.50" height="6.40" fill="#f0401e" stroke="#000" stroke-width="1.0"/>
<line x1="92.08" y1="108.1" x2="92.08" y2="128.6" stroke="#1a1a1a" stroke-width="1.1"/>
<rect x="90.25" y="118.42" width="3.65" height="1.45" rx="0.9" fill="#f0401e" stroke="#000" stroke-width="0.85"/>
<line x1="97.36" y1="66.3" x2="97.36" y2="118.4" stroke="#1a1a1a" stroke-width="1.1"/>
<rect x="95.61" y="74.30" width="3.50" height="36.40" fill="#0aa74f" stroke="#000" stroke-width="1.0"/>
<line x1="102.64" y1="48.2" x2="102.64" y2="71.8" stroke="#1a1a1a" stroke-width="1.1"/>
<rect x="100.89" y="58.40" width="3.50" height="9.90" fill="#0aa74f" stroke="#000" stroke-width="1.0"/>
<line x1="107.92" y1="52.3" x2="107.92" y2="107.8" stroke="#1a1a1a" stroke-width="1.1"/>
<rect x="106.17" y="53.00" width="3.50" height="43.20" fill="#f0401e" stroke="#000" stroke-width="1.0"/>
<line x1="113.20" y1="91.9" x2="113.20" y2="134.6" stroke="#1a1a1a" stroke-width="1.1"/>
<rect x="111.45" y="100.70" width="3.50" height="30.40" fill="#f0401e" stroke="#000" stroke-width="1.0"/>
<line x1="118.49" y1="117.3" x2="118.49" y2="136.0" stroke="#1a1a1a" stroke-width="1.1"/>
<rect x="116.66" y="126.62" width="3.65" height="1.85" rx="0.9" fill="#f0401e" stroke="#000" stroke-width="0.85"/>
<line x1="123.77" y1="124.2" x2="123.77" y2="144.6" stroke="#1a1a1a" stroke-width="1.1"/>
<rect x="122.02" y="128.20" width="3.50" height="4.30" fill="#0aa74f" stroke="#000" stroke-width="1.0"/>
<line x1="129.05" y1="120.3" x2="129.05" y2="138.5" stroke="#1a1a1a" stroke-width="1.1"/>
<rect x="127.30" y="128.70" width="3.50" height="3.80" fill="#0aa74f" stroke="#000" stroke-width="1.0"/>
<line x1="134.33" y1="109.2" x2="134.33" y2="132.4" stroke="#1a1a1a" stroke-width="1.1"/>
<rect x="132.51" y="126.83" width="3.65" height="1.65" rx="0.9" fill="#f0401e" stroke="#000" stroke-width="0.85"/>
<line x1="139.62" y1="124.2" x2="139.62" y2="163.9" stroke="#1a1a1a" stroke-width="1.1"/>
<rect x="137.87" y="129.60" width="3.50" height="30.00" fill="#f0401e" stroke="#000" stroke-width="1.0"/>
<line x1="144.90" y1="134.2" x2="144.90" y2="152.7" stroke="#1a1a1a" stroke-width="1.1"/>
<rect x="143.15" y="136.10" width="3.50" height="13.70" fill="#0aa74f" stroke="#000" stroke-width="1.0"/>
<line x1="150.18" y1="129.4" x2="150.18" y2="145.8" stroke="#1a1a1a" stroke-width="1.1"/>
<rect x="148.43" y="130.30" width="3.50" height="11.20" fill="#0aa74f" stroke="#000" stroke-width="1.0"/>
<line x1="155.47" y1="131.6" x2="155.47" y2="158.4" stroke="#1a1a1a" stroke-width="1.1"/>
<rect x="153.72" y="132.60" width="3.50" height="8.90" fill="#f0401e" stroke="#000" stroke-width="1.0"/>
<line x1="160.75" y1="136.8" x2="160.75" y2="154.6" stroke="#1a1a1a" stroke-width="1.1"/>
<rect x="158.92" y="143.53" width="3.65" height="1.65" rx="0.9" fill="#0aa74f" stroke="#000" stroke-width="0.85"/>
<line x1="166.03" y1="134.5" x2="166.03" y2="146.8" stroke="#1a1a1a" stroke-width="1.1"/>
<rect x="164.21" y="144.03" width="3.65" height="1.65" rx="0.9" fill="#f0401e" stroke="#000" stroke-width="0.85"/>
<line x1="171.31" y1="97.9" x2="171.31" y2="137.6" stroke="#1a1a1a" stroke-width="1.1"/>
<rect x="169.56" y="101.10" width="3.50" height="34.40" fill="#0aa74f" stroke="#000" stroke-width="1.0"/>
<line x1="176.59" y1="96.0" x2="176.59" y2="120.8" stroke="#1a1a1a" stroke-width="1.1"/>
<rect x="174.77" y="103.92" width="3.65" height="1.65" rx="0.9" fill="#f0401e" stroke="#000" stroke-width="0.85"/>
<line x1="181.88" y1="99.1" x2="181.88" y2="143.2" stroke="#1a1a1a" stroke-width="1.1"/>
<rect x="180.13" y="102.80" width="3.50" height="30.60" fill="#f0401e" stroke="#000" stroke-width="1.0"/>
<line x1="187.16" y1="132.0" x2="187.16" y2="147.5" stroke="#1a1a1a" stroke-width="1.1"/>
<rect x="185.41" y="137.60" width="3.50" height="4.00" fill="#f0401e" stroke="#000" stroke-width="1.0"/>
<line x1="192.44" y1="139.4" x2="192.44" y2="170.2" stroke="#1a1a1a" stroke-width="1.1"/>
<rect x="190.69" y="143.40" width="3.50" height="11.90" fill="#f0401e" stroke="#000" stroke-width="1.0"/>
<line x1="197.72" y1="155.0" x2="197.72" y2="189.2" stroke="#1a1a1a" stroke-width="1.1"/>
<rect x="195.97" y="158.60" width="3.50" height="30.10" fill="#f0401e" stroke="#000" stroke-width="1.0"/>
<line x1="203.01" y1="169.6" x2="203.01" y2="190.9" stroke="#1a1a1a" stroke-width="1.1"/>
<rect x="201.26" y="173.30" width="3.50" height="12.80" fill="#0aa74f" stroke="#000" stroke-width="1.0"/>
<line x1="208.29" y1="151.5" x2="208.29" y2="175.7" stroke="#1a1a1a" stroke-width="1.1"/>
<rect x="206.54" y="153.40" width="3.50" height="18.80" fill="#0aa74f" stroke="#000" stroke-width="1.0"/>
<line x1="213.57" y1="145.4" x2="213.57" y2="161.9" stroke="#1a1a1a" stroke-width="1.1"/>
<rect x="211.75" y="154.22" width="3.65" height="2.05" rx="0.9" fill="#0aa74f" stroke="#000" stroke-width="0.85"/>
<line x1="218.85" y1="150.6" x2="218.85" y2="171.4" stroke="#1a1a1a" stroke-width="1.1"/>
<rect x="216.60" y="155.5" width="4.5" height="1.7" fill="#000"/>
<line x1="224.14" y1="153.2" x2="224.14" y2="165.3" stroke="#1a1a1a" stroke-width="1.1"/>
<rect x="222.39" y="154.60" width="3.50" height="6.00" fill="#f0401e" stroke="#000" stroke-width="1.0"/>
<line x1="229.42" y1="145.1" x2="229.42" y2="172.6" stroke="#1a1a1a" stroke-width="1.1"/>
<rect x="227.67" y="152.60" width="3.50" height="10.60" fill="#0aa74f" stroke="#000" stroke-width="1.0"/>
<line x1="234.70" y1="137.3" x2="234.70" y2="151.5" stroke="#1a1a1a" stroke-width="1.1"/>
<rect x="232.88" y="146.72" width="3.65" height="1.75" rx="0.9" fill="#0aa74f" stroke="#000" stroke-width="0.85"/>
<line x1="239.98" y1="141.1" x2="239.98" y2="164.5" stroke="#1a1a1a" stroke-width="1.1"/>
<rect x="238.23" y="147.70" width="3.50" height="9.80" fill="#f0401e" stroke="#000" stroke-width="1.0"/>
<line x1="245.27" y1="148.9" x2="245.27" y2="168.8" stroke="#1a1a1a" stroke-width="1.1"/>
<rect x="243.02" y="159.8" width="4.5" height="1.7" fill="#000"/>
<line x1="250.55" y1="151.0" x2="250.55" y2="164.5" stroke="#1a1a1a" stroke-width="1.1"/>
<rect x="248.80" y="152.00" width="3.50" height="6.40" fill="#0aa74f" stroke="#000" stroke-width="1.0"/>
<line x1="255.83" y1="149.4" x2="255.83" y2="169.6" stroke="#1a1a1a" stroke-width="1.1"/>
<rect x="254.08" y="153.10" width="3.50" height="15.70" fill="#f0401e" stroke="#000" stroke-width="1.0"/>
<line x1="261.11" y1="164.5" x2="261.11" y2="178.8" stroke="#1a1a1a" stroke-width="1.1"/>
<rect x="258.86" y="165.5" width="4.5" height="1.7" fill="#000"/>
<line x1="266.40" y1="155.3" x2="266.40" y2="170.8" stroke="#1a1a1a" stroke-width="1.1"/>
<rect x="264.65" y="157.40" width="3.50" height="10.00" fill="#0aa74f" stroke="#000" stroke-width="1.0"/>
<line x1="271.68" y1="156.7" x2="271.68" y2="166.7" stroke="#1a1a1a" stroke-width="1.1"/>
<rect x="269.43" y="158.3" width="4.5" height="1.7" fill="#000"/>
<line x1="276.96" y1="142.8" x2="276.96" y2="161.3" stroke="#1a1a1a" stroke-width="1.1"/>
<rect x="274.71" y="156.3" width="4.5" height="1.7" fill="#000"/>
<line x1="282.25" y1="154.1" x2="282.25" y2="165.7" stroke="#1a1a1a" stroke-width="1.1"/>
<rect x="280.50" y="159.10" width="3.50" height="4.00" fill="#f0401e" stroke="#000" stroke-width="1.0"/>
<line x1="287.53" y1="156.3" x2="287.53" y2="162.2" stroke="#1a1a1a" stroke-width="1.1"/>
<rect x="285.70" y="158.82" width="3.65" height="2.25" rx="0.9" fill="#0aa74f" stroke="#000" stroke-width="0.85"/>
<line x1="292.81" y1="144.6" x2="292.81" y2="163.2" stroke="#1a1a1a" stroke-width="1.1"/>
<rect x="291.06" y="147.40" width="3.50" height="11.50" fill="#0aa74f" stroke="#000" stroke-width="1.0"/>
<line x1="298.09" y1="119.9" x2="298.09" y2="146.8" stroke="#1a1a1a" stroke-width="1.1"/>
<rect x="296.34" y="141.30" width="3.50" height="4.50" fill="#0aa74f" stroke="#000" stroke-width="1.0"/>
<line x1="303.38" y1="129.9" x2="303.38" y2="147.7" stroke="#1a1a1a" stroke-width="1.1"/>
<rect x="301.62" y="134.10" width="3.50" height="9.30" fill="#f0401e" stroke="#000" stroke-width="1.0"/>
<line x1="308.66" y1="142.0" x2="308.66" y2="157.2" stroke="#1a1a1a" stroke-width="1.1"/>
<rect x="306.83" y="143.82" width="3.65" height="2.05" rx="0.9" fill="#f0401e" stroke="#000" stroke-width="0.85"/>
<line x1="313.94" y1="139.0" x2="313.94" y2="158.1" stroke="#1a1a1a" stroke-width="1.1"/>
<rect x="312.12" y="144.22" width="3.65" height="2.15" rx="0.9" fill="#0aa74f" stroke="#000" stroke-width="0.85"/>
<line x1="319.22" y1="127.8" x2="319.22" y2="147.7" stroke="#1a1a1a" stroke-width="1.1"/>
<rect x="317.47" y="134.10" width="3.50" height="8.20" fill="#0aa74f" stroke="#000" stroke-width="1.0"/>
<line x1="324.50" y1="128.7" x2="324.50" y2="140.3" stroke="#1a1a1a" stroke-width="1.1"/>
<rect x="322.75" y="131.50" width="3.50" height="2.70" fill="#f0401e" stroke="#000" stroke-width="1.0"/>
<line x1="329.79" y1="125.2" x2="329.79" y2="139.4" stroke="#1a1a1a" stroke-width="1.1"/>
<rect x="327.96" y="131.22" width="3.65" height="2.55" rx="0.9" fill="#f0401e" stroke="#000" stroke-width="0.85"/>
<line x1="335.07" y1="133.0" x2="335.07" y2="161.3" stroke="#1a1a1a" stroke-width="1.1"/>
<rect x="333.32" y="134.40" width="3.50" height="25.20" fill="#f0401e" stroke="#000" stroke-width="1.0"/>
<line x1="340.35" y1="156.7" x2="340.35" y2="170.0" stroke="#1a1a1a" stroke-width="1.1"/>
<rect x="338.53" y="157.62" width="3.65" height="2.55" rx="0.9" fill="#0aa74f" stroke="#000" stroke-width="0.85"/>
<line x1="345.63" y1="155.8" x2="345.63" y2="192.6" stroke="#1a1a1a" stroke-width="1.1"/>
<rect x="343.88" y="157.70" width="3.50" height="29.70" fill="#f0401e" stroke="#000" stroke-width="1.0"/>
<line x1="350.92" y1="183.8" x2="350.92" y2="205.6" stroke="#1a1a1a" stroke-width="1.1"/>
<rect x="349.17" y="184.90" width="3.50" height="12.40" fill="#f0401e" stroke="#000" stroke-width="1.0"/>
<line x1="356.20" y1="193.0" x2="356.20" y2="206.8" stroke="#1a1a1a" stroke-width="1.1"/>
<rect x="354.38" y="198.62" width="3.65" height="2.25" rx="0.9" fill="#0aa74f" stroke="#000" stroke-width="0.85"/>
<line x1="361.48" y1="195.0" x2="361.48" y2="208.0" stroke="#1a1a1a" stroke-width="1.1"/>
<rect x="359.73" y="199.60" width="3.50" height="4.60" fill="#f0401e" stroke="#000" stroke-width="1.0"/>
<line x1="366.76" y1="188.3" x2="366.76" y2="203.3" stroke="#1a1a1a" stroke-width="1.1"/>
<rect x="365.01" y="192.80" width="3.50" height="9.70" fill="#0aa74f" stroke="#000" stroke-width="1.0"/>
<line x1="372.05" y1="184.3" x2="372.05" y2="195.9" stroke="#1a1a1a" stroke-width="1.1"/>
<rect x="370.30" y="187.10" width="3.50" height="4.50" fill="#0aa74f" stroke="#000" stroke-width="1.0"/>
<line x1="377.33" y1="187.8" x2="377.33" y2="199.0" stroke="#1a1a1a" stroke-width="1.1"/>
<rect x="375.58" y="188.50" width="3.50" height="2.70" fill="#f0401e" stroke="#000" stroke-width="1.0"/>
<line x1="382.61" y1="186.9" x2="382.61" y2="203.0" stroke="#1a1a1a" stroke-width="1.1"/>
<rect x="380.79" y="188.22" width="3.65" height="2.55" rx="0.9" fill="#0aa74f" stroke="#000" stroke-width="0.85"/>
<line x1="387.89" y1="180.0" x2="387.89" y2="191.6" stroke="#1a1a1a" stroke-width="1.1"/>
<rect x="386.14" y="182.50" width="3.50" height="5.80" fill="#0aa74f" stroke="#000" stroke-width="1.0"/>
<line x1="393.18" y1="178.8" x2="393.18" y2="187.8" stroke="#1a1a1a" stroke-width="1.1"/>
<rect x="390.93" y="181.3" width="4.5" height="1.7" fill="#000"/>
<line x1="398.46" y1="179.1" x2="398.46" y2="187.3" stroke="#1a1a1a" stroke-width="1.1"/>
<rect x="396.71" y="180.70" width="3.50" height="4.50" fill="#f0401e" stroke="#000" stroke-width="1.0"/>
<line x1="403.74" y1="177.8" x2="403.74" y2="190.9" stroke="#1a1a1a" stroke-width="1.1"/>
<rect x="401.99" y="184.50" width="3.50" height="4.20" fill="#f0401e" stroke="#000" stroke-width="1.0"/>
<line x1="409.02" y1="182.3" x2="409.02" y2="189.5" stroke="#1a1a1a" stroke-width="1.1"/>
<rect x="407.27" y="183.30" width="3.50" height="3.60" fill="#f0401e" stroke="#000" stroke-width="1.0"/>
<line x1="414.31" y1="177.4" x2="414.31" y2="197.8" stroke="#1a1a1a" stroke-width="1.1"/>
<rect x="412.56" y="178.50" width="3.50" height="18.80" fill="#0aa74f" stroke="#000" stroke-width="1.0"/>
<line x1="419.59" y1="177.9" x2="419.59" y2="186.6" stroke="#1a1a1a" stroke-width="1.1"/>
<rect x="417.84" y="178.80" width="3.50" height="6.70" fill="#f0401e" stroke="#000" stroke-width="1.0"/>
<line x1="424.87" y1="181.7" x2="424.87" y2="191.6" stroke="#1a1a1a" stroke-width="1.1"/>
<rect x="423.05" y="182.72" width="3.65" height="2.55" rx="0.9" fill="#0aa74f" stroke="#000" stroke-width="0.85"/>
<line x1="430.15" y1="183.5" x2="430.15" y2="193.5" stroke="#1a1a1a" stroke-width="1.1"/>
<rect x="428.40" y="184.90" width="3.50" height="5.50" fill="#f0401e" stroke="#000" stroke-width="1.0"/>
<line x1="435.44" y1="174.0" x2="435.44" y2="190.4" stroke="#1a1a1a" stroke-width="1.1"/>
<rect x="433.69" y="175.00" width="3.50" height="14.50" fill="#0aa74f" stroke="#000" stroke-width="1.0"/>
<line x1="440.72" y1="167.0" x2="440.72" y2="195.0" stroke="#1a1a1a" stroke-width="1.1"/>
<rect x="438.97" y="175.00" width="3.50" height="17.60" fill="#f0401e" stroke="#000" stroke-width="1.0"/>
<line x1="446.00" y1="184.3" x2="446.00" y2="194.7" stroke="#1a1a1a" stroke-width="1.1"/>
<rect x="444.25" y="185.70" width="3.50" height="6.90" fill="#0aa74f" stroke="#000" stroke-width="1.0"/>
<line x1="451.28" y1="182.3" x2="451.28" y2="209.4" stroke="#1a1a1a" stroke-width="1.1"/>
<rect x="449.53" y="187.50" width="3.50" height="21.40" fill="#f0401e" stroke="#000" stroke-width="1.0"/>
<line x1="456.57" y1="202.5" x2="456.57" y2="209.9" stroke="#1a1a1a" stroke-width="1.1"/>
<rect x="454.74" y="206.93" width="3.65" height="2.55" rx="0.9" fill="#0aa74f" stroke="#000" stroke-width="0.85"/>
<line x1="461.85" y1="200.2" x2="461.85" y2="207.1" stroke="#1a1a1a" stroke-width="1.1"/>
<rect x="460.10" y="203.50" width="3.50" height="2.80" fill="#0aa74f" stroke="#000" stroke-width="1.0"/>
<line x1="467.13" y1="187.3" x2="467.13" y2="205.9" stroke="#1a1a1a" stroke-width="1.1"/>
<rect x="465.38" y="196.10" width="3.50" height="7.20" fill="#0aa74f" stroke="#000" stroke-width="1.0"/>
<line x1="472.41" y1="179.1" x2="472.41" y2="196.8" stroke="#1a1a1a" stroke-width="1.1"/>
<rect x="470.16" y="190.1" width="4.5" height="1.8" fill="#000"/>
<line x1="477.70" y1="183.5" x2="477.70" y2="193.5" stroke="#1a1a1a" stroke-width="1.1"/>
<rect x="475.87" y="187.53" width="3.65" height="2.45" rx="0.9" fill="#0aa74f" stroke="#000" stroke-width="0.85"/>
<line x1="482.98" y1="181.2" x2="482.98" y2="190.4" stroke="#1a1a1a" stroke-width="1.1"/>
<rect x="481.23" y="182.80" width="3.50" height="5.90" fill="#0aa74f" stroke="#000" stroke-width="1.0"/>
<line x1="488.26" y1="180.0" x2="488.26" y2="187.3" stroke="#1a1a1a" stroke-width="1.1"/>
<rect x="486.44" y="182.72" width="3.65" height="2.05" rx="0.9" fill="#f0401e" stroke="#000" stroke-width="0.85"/>
<line x1="493.54" y1="181.7" x2="493.54" y2="191.2" stroke="#1a1a1a" stroke-width="1.1"/>
<rect x="491.29" y="184.5" width="4.5" height="1.7" fill="#000"/>
<line x1="498.83" y1="178.8" x2="498.83" y2="190.9" stroke="#1a1a1a" stroke-width="1.1"/>
<rect x="497.08" y="180.20" width="3.50" height="5.00" fill="#0aa74f" stroke="#000" stroke-width="1.0"/>
<line x1="504.11" y1="172.6" x2="504.11" y2="183.8" stroke="#1a1a1a" stroke-width="1.1"/>
<rect x="502.36" y="177.10" width="3.50" height="5.50" fill="#0aa74f" stroke="#000" stroke-width="1.0"/>
<line x1="509.39" y1="161.9" x2="509.39" y2="177.1" stroke="#1a1a1a" stroke-width="1.1"/>
<rect x="507.64" y="162.90" width="3.50" height="13.70" fill="#0aa74f" stroke="#000" stroke-width="1.0"/>
<line x1="514.67" y1="144.1" x2="514.67" y2="166.5" stroke="#1a1a1a" stroke-width="1.1"/>
<rect x="512.92" y="145.10" width="3.50" height="17.10" fill="#0aa74f" stroke="#000" stroke-width="1.0"/>
<line x1="519.96" y1="130.4" x2="519.96" y2="146.8" stroke="#1a1a1a" stroke-width="1.1"/>
<rect x="518.21" y="137.90" width="3.50" height="8.10" fill="#0aa74f" stroke="#000" stroke-width="1.0"/>
<line x1="525.24" y1="135.1" x2="525.24" y2="146.3" stroke="#1a1a1a" stroke-width="1.1"/>
<rect x="523.49" y="137.50" width="3.50" height="2.80" fill="#f0401e" stroke="#000" stroke-width="1.0"/>
<line x1="530.52" y1="136.8" x2="530.52" y2="145.4" stroke="#1a1a1a" stroke-width="1.1"/>
<rect x="528.77" y="137.90" width="3.50" height="6.70" fill="#0aa74f" stroke="#000" stroke-width="1.0"/>
<line x1="535.80" y1="127.3" x2="535.80" y2="143.7" stroke="#1a1a1a" stroke-width="1.1"/>
<rect x="533.98" y="139.03" width="3.65" height="2.55" rx="0.9" fill="#f0401e" stroke="#000" stroke-width="0.85"/>
<line x1="541.09" y1="130.4" x2="541.09" y2="145.7" stroke="#1a1a1a" stroke-width="1.1"/>
<rect x="539.34" y="135.00" width="3.50" height="6.90" fill="#0aa74f" stroke="#000" stroke-width="1.0"/>
<line x1="546.37" y1="121.1" x2="546.37" y2="134.8" stroke="#1a1a1a" stroke-width="1.1"/>
<rect x="544.62" y="129.50" width="3.50" height="4.10" fill="#0aa74f" stroke="#000" stroke-width="1.0"/>
<line x1="551.65" y1="109.4" x2="551.65" y2="134.8" stroke="#1a1a1a" stroke-width="1.1"/>
<rect x="549.40" y="127.6" width="4.5" height="1.7" fill="#000"/>
<line x1="556.93" y1="113.2" x2="556.93" y2="138.3" stroke="#1a1a1a" stroke-width="1.1"/>
<rect x="555.18" y="117.40" width="3.50" height="10.10" fill="#0aa74f" stroke="#000" stroke-width="1.0"/>
<line x1="562.22" y1="92.1" x2="562.22" y2="132.7" stroke="#1a1a1a" stroke-width="1.1"/>
<rect x="560.47" y="114.80" width="3.50" height="13.60" fill="#f0401e" stroke="#000" stroke-width="1.0"/>
<line x1="567.50" y1="126.2" x2="567.50" y2="146.6" stroke="#1a1a1a" stroke-width="1.1"/>
<rect x="565.75" y="131.20" width="3.50" height="9.30" fill="#f0401e" stroke="#000" stroke-width="1.0"/>
<line x1="572.78" y1="128.4" x2="572.78" y2="144.3" stroke="#1a1a1a" stroke-width="1.1"/>
<rect x="571.03" y="132.10" width="3.50" height="9.30" fill="#0aa74f" stroke="#000" stroke-width="1.0"/>
<line x1="578.06" y1="129.8" x2="578.06" y2="140.5" stroke="#1a1a1a" stroke-width="1.1"/>
<rect x="576.31" y="130.80" width="3.50" height="6.60" fill="#f0401e" stroke="#000" stroke-width="1.0"/>
<line x1="583.35" y1="137.6" x2="583.35" y2="152.6" stroke="#1a1a1a" stroke-width="1.1"/>
<rect x="581.60" y="138.60" width="3.50" height="11.90" fill="#f0401e" stroke="#000" stroke-width="1.0"/>
<line x1="588.63" y1="135.3" x2="588.63" y2="149.5" stroke="#1a1a1a" stroke-width="1.1"/>
<rect x="586.88" y="138.10" width="3.50" height="9.30" fill="#0aa74f" stroke="#000" stroke-width="1.0"/>
<line x1="593.91" y1="134.5" x2="593.91" y2="143.4" stroke="#1a1a1a" stroke-width="1.1"/>
<rect x="592.16" y="136.40" width="3.50" height="3.80" fill="#f0401e" stroke="#000" stroke-width="1.0"/>
<line x1="599.19" y1="128.1" x2="599.19" y2="142.2" stroke="#1a1a1a" stroke-width="1.1"/>
<rect x="597.44" y="133.80" width="3.50" height="5.80" fill="#0aa74f" stroke="#000" stroke-width="1.0"/>
<line x1="604.48" y1="129.8" x2="604.48" y2="156.1" stroke="#1a1a1a" stroke-width="1.1"/>
<rect x="602.73" y="135.50" width="3.50" height="11.60" fill="#f0401e" stroke="#000" stroke-width="1.0"/>
<line x1="609.76" y1="140.8" x2="609.76" y2="154.0" stroke="#1a1a1a" stroke-width="1.1"/>
<rect x="607.93" y="145.82" width="3.65" height="2.55" rx="0.9" fill="#0aa74f" stroke="#000" stroke-width="0.85"/>
<line x1="615.04" y1="141.9" x2="615.04" y2="157.8" stroke="#1a1a1a" stroke-width="1.1"/>
<rect x="612.79" y="144.8" width="4.5" height="1.8" fill="#000"/>
<line x1="620.32" y1="130.1" x2="620.32" y2="150.0" stroke="#1a1a1a" stroke-width="1.1"/>
<rect x="618.57" y="131.50" width="3.50" height="15.90" fill="#0aa74f" stroke="#000" stroke-width="1.0"/>
<line x1="625.61" y1="118.0" x2="625.61" y2="135.3" stroke="#1a1a1a" stroke-width="1.1"/>
<rect x="623.86" y="124.30" width="3.50" height="9.80" fill="#f0401e" stroke="#000" stroke-width="1.0"/>
<line x1="630.89" y1="131.6" x2="630.89" y2="166.4" stroke="#1a1a1a" stroke-width="1.1"/>
<rect x="629.14" y="132.60" width="3.50" height="32.60" fill="#f0401e" stroke="#000" stroke-width="1.0"/>
<line x1="636.17" y1="158.7" x2="636.17" y2="173.9" stroke="#1a1a1a" stroke-width="1.1"/>
<rect x="634.35" y="163.62" width="3.65" height="2.35" rx="0.9" fill="#0aa74f" stroke="#000" stroke-width="0.85"/>
<line x1="641.45" y1="136.2" x2="641.45" y2="161.3" stroke="#1a1a1a" stroke-width="1.1"/>
<rect x="639.70" y="137.60" width="3.50" height="23.10" fill="#0aa74f" stroke="#000" stroke-width="1.0"/>
<line x1="646.74" y1="133.1" x2="646.74" y2="149.1" stroke="#1a1a1a" stroke-width="1.1"/>
<rect x="644.99" y="136.40" width="3.50" height="10.20" fill="#0aa74f" stroke="#000" stroke-width="1.0"/>
<line x1="652.02" y1="131.3" x2="652.02" y2="159.2" stroke="#1a1a1a" stroke-width="1.1"/>
<rect x="650.27" y="132.40" width="3.50" height="22.30" fill="#f0401e" stroke="#000" stroke-width="1.0"/>
<line x1="657.30" y1="149.1" x2="657.30" y2="161.8" stroke="#1a1a1a" stroke-width="1.1"/>
<rect x="655.55" y="154.90" width="3.50" height="5.00" fill="#f0401e" stroke="#000" stroke-width="1.0"/>
<line x1="662.58" y1="152.6" x2="662.58" y2="164.2" stroke="#1a1a1a" stroke-width="1.1"/>
<rect x="660.76" y="157.03" width="3.65" height="2.55" rx="0.9" fill="#0aa74f" stroke="#000" stroke-width="0.85"/>
<line x1="667.87" y1="144.0" x2="667.87" y2="158.7" stroke="#1a1a1a" stroke-width="1.1"/>
<rect x="666.12" y="146.80" width="3.50" height="10.60" fill="#0aa74f" stroke="#000" stroke-width="1.0"/>
<line x1="673.15" y1="144.8" x2="673.15" y2="157.3" stroke="#1a1a1a" stroke-width="1.1"/>
<rect x="671.40" y="147.30" width="3.50" height="6.50" fill="#f0401e" stroke="#000" stroke-width="1.0"/>
<line x1="678.43" y1="146.2" x2="678.43" y2="153.8" stroke="#1a1a1a" stroke-width="1.1"/>
<rect x="676.68" y="148.10" width="3.50" height="4.50" fill="#0aa74f" stroke="#000" stroke-width="1.0"/>
<line x1="683.71" y1="148.3" x2="683.71" y2="159.5" stroke="#1a1a1a" stroke-width="1.1"/>
<rect x="681.96" y="149.70" width="3.50" height="8.40" fill="#f0401e" stroke="#000" stroke-width="1.0"/>
<line x1="689.00" y1="155.5" x2="689.00" y2="165.9" stroke="#1a1a1a" stroke-width="1.1"/>
<rect x="687.25" y="156.80" width="3.50" height="6.20" fill="#f0401e" stroke="#000" stroke-width="1.0"/>
<line x1="694.28" y1="152.6" x2="694.28" y2="165.9" stroke="#1a1a1a" stroke-width="1.1"/>
<rect x="692.53" y="156.30" width="3.50" height="8.90" fill="#0aa74f" stroke="#000" stroke-width="1.0"/>
<line x1="699.56" y1="148.3" x2="699.56" y2="157.3" stroke="#1a1a1a" stroke-width="1.1"/>
<rect x="697.81" y="150.70" width="3.50" height="5.70" fill="#0aa74f" stroke="#000" stroke-width="1.0"/>
<line x1="704.85" y1="126.3" x2="704.85" y2="153.8" stroke="#1a1a1a" stroke-width="1.1"/>
<rect x="703.10" y="129.50" width="3.50" height="22.20" fill="#0aa74f" stroke="#000" stroke-width="1.0"/>
<line x1="710.13" y1="114.6" x2="710.13" y2="130.5" stroke="#1a1a1a" stroke-width="1.1"/>
<rect x="708.38" y="121.70" width="3.50" height="7.90" fill="#0aa74f" stroke="#000" stroke-width="1.0"/>
<line x1="715.41" y1="114.6" x2="715.41" y2="126.7" stroke="#1a1a1a" stroke-width="1.1"/>
<rect x="713.66" y="115.60" width="3.50" height="5.50" fill="#f0401e" stroke="#000" stroke-width="1.0"/>
<line x1="720.69" y1="105.9" x2="720.69" y2="120.1" stroke="#1a1a1a" stroke-width="1.1"/>
<rect x="718.94" y="110.50" width="3.50" height="8.70" fill="#0aa74f" stroke="#000" stroke-width="1.0"/>
<line x1="725.98" y1="90.4" x2="725.98" y2="110.8" stroke="#1a1a1a" stroke-width="1.1"/>
<rect x="724.23" y="92.30" width="3.50" height="11.90" fill="#0aa74f" stroke="#000" stroke-width="1.0"/>
<line x1="731.26" y1="99.9" x2="731.26" y2="141.9" stroke="#1a1a1a" stroke-width="1.1"/>
<rect x="729.51" y="100.90" width="3.50" height="22.30" fill="#f0401e" stroke="#000" stroke-width="1.0"/>
<line x1="736.54" y1="124.9" x2="736.54" y2="145.3" stroke="#1a1a1a" stroke-width="1.1"/>
<rect x="734.79" y="135.50" width="3.50" height="6.20" fill="#f0401e" stroke="#000" stroke-width="1.0"/>
<line x1="741.82" y1="129.3" x2="741.82" y2="155.7" stroke="#1a1a1a" stroke-width="1.1"/>
<rect x="740.07" y="140.40" width="3.50" height="10.50" fill="#f0401e" stroke="#000" stroke-width="1.0"/>
<line x1="747.11" y1="143.1" x2="747.11" y2="218.9" stroke="#1a1a1a" stroke-width="1.1"/>
<rect x="745.36" y="149.30" width="3.50" height="66.50" fill="#f0401e" stroke="#000" stroke-width="1.0"/>
<line x1="752.39" y1="185.9" x2="752.39" y2="216.3" stroke="#1a1a1a" stroke-width="1.1"/>
<rect x="750.64" y="201.80" width="3.50" height="11.90" fill="#0aa74f" stroke="#000" stroke-width="1.0"/>
<line x1="757.67" y1="164.2" x2="757.67" y2="206.0" stroke="#1a1a1a" stroke-width="1.1"/>
<rect x="755.92" y="178.70" width="3.50" height="26.70" fill="#0aa74f" stroke="#000" stroke-width="1.0"/>
<line x1="762.95" y1="171.3" x2="762.95" y2="183.7" stroke="#1a1a1a" stroke-width="1.1"/>
<rect x="761.20" y="175.30" width="3.50" height="2.90" fill="#0aa74f" stroke="#000" stroke-width="1.0"/>
<line x1="768.24" y1="164.7" x2="768.24" y2="180.6" stroke="#1a1a1a" stroke-width="1.1"/>
<rect x="766.49" y="168.40" width="3.50" height="8.10" fill="#0aa74f" stroke="#000" stroke-width="1.0"/>
<line x1="773.52" y1="159.2" x2="773.52" y2="186.3" stroke="#1a1a1a" stroke-width="1.1"/>
<rect x="771.77" y="165.40" width="3.50" height="9.20" fill="#f0401e" stroke="#000" stroke-width="1.0"/>
<line x1="778.80" y1="156.9" x2="778.80" y2="211.0" stroke="#1a1a1a" stroke-width="1.1"/>
<rect x="777.05" y="163.70" width="3.50" height="21.50" fill="#f0401e" stroke="#000" stroke-width="1.0"/>
<line x1="784.08" y1="177.8" x2="784.08" y2="199.0" stroke="#1a1a1a" stroke-width="1.1"/>
<rect x="782.33" y="187.50" width="3.50" height="3.20" fill="#f0401e" stroke="#000" stroke-width="1.0"/>
<line x1="789.37" y1="183.0" x2="789.37" y2="205.4" stroke="#1a1a1a" stroke-width="1.1"/>
<rect x="787.62" y="194.90" width="3.50" height="4.80" fill="#f0401e" stroke="#000" stroke-width="1.0"/>
<line x1="794.65" y1="193.0" x2="794.65" y2="264.2" stroke="#1a1a1a" stroke-width="1.1"/>
<rect x="792.90" y="202.50" width="3.50" height="36.60" fill="#f0401e" stroke="#000" stroke-width="1.0"/>
<line x1="799.93" y1="245.2" x2="799.93" y2="319.8" stroke="#1a1a1a" stroke-width="1.1"/>
<rect x="798.18" y="248.50" width="3.50" height="67.30" fill="#f0401e" stroke="#000" stroke-width="1.0"/>
<line x1="805.21" y1="277.8" x2="805.21" y2="455.0" stroke="#1a1a1a" stroke-width="1.1"/>
<rect x="803.46" y="285.80" width="3.50" height="115.80" fill="#f0401e" stroke="#000" stroke-width="1.0"/>
<line x1="810.50" y1="381.2" x2="810.50" y2="437.8" stroke="#1a1a1a" stroke-width="1.1"/>
<rect x="808.75" y="399.90" width="3.50" height="18.50" fill="#f0401e" stroke="#000" stroke-width="1.0"/>
<line x1="815.78" y1="397.3" x2="815.78" y2="461.6" stroke="#1a1a1a" stroke-width="1.1"/>
<rect x="814.03" y="412.60" width="3.50" height="42.60" fill="#f0401e" stroke="#000" stroke-width="1.0"/>
<line x1="821.06" y1="427.0" x2="821.06" y2="455.9" stroke="#1a1a1a" stroke-width="1.1"/>
<rect x="819.31" y="437.10" width="3.50" height="7.60" fill="#0aa74f" stroke="#000" stroke-width="1.0"/>
<line x1="826.34" y1="387.8" x2="826.34" y2="443.0" stroke="#1a1a1a" stroke-width="1.1"/>
<rect x="824.59" y="424.30" width="3.50" height="12.80" fill="#0aa74f" stroke="#000" stroke-width="1.0"/>
<line x1="831.62" y1="376.0" x2="831.62" y2="428.8" stroke="#1a1a1a" stroke-width="1.1"/>
<rect x="829.88" y="379.40" width="3.50" height="33.00" fill="#0aa74f" stroke="#000" stroke-width="1.0"/>
<line x1="836.91" y1="319.8" x2="836.91" y2="380.7" stroke="#1a1a1a" stroke-width="1.1"/>
<rect x="835.16" y="328.60" width="3.50" height="47.70" fill="#0aa74f" stroke="#000" stroke-width="1.0"/>
<line x1="842.19" y1="294.2" x2="842.19" y2="330.8" stroke="#1a1a1a" stroke-width="1.1"/>
<rect x="840.44" y="297.00" width="3.50" height="23.50" fill="#0aa74f" stroke="#000" stroke-width="1.0"/>
<line x1="847.47" y1="291.6" x2="847.47" y2="321.0" stroke="#1a1a1a" stroke-width="1.1"/>
<rect x="845.72" y="302.50" width="3.50" height="4.70" fill="#f0401e" stroke="#000" stroke-width="1.0"/>
<line x1="852.75" y1="299.0" x2="852.75" y2="323.6" stroke="#1a1a1a" stroke-width="1.1"/>
<rect x="851.00" y="307.70" width="3.50" height="6.90" fill="#f0401e" stroke="#000" stroke-width="1.0"/>
<line x1="858.04" y1="304.6" x2="858.04" y2="344.0" stroke="#1a1a1a" stroke-width="1.1"/>
<rect x="856.29" y="305.60" width="3.50" height="28.90" fill="#f0401e" stroke="#000" stroke-width="1.0"/>
<line x1="863.32" y1="315.8" x2="863.32" y2="338.6" stroke="#1a1a1a" stroke-width="1.1"/>
<rect x="861.49" y="331.12" width="3.65" height="2.35" rx="0.9" fill="#f0401e" stroke="#000" stroke-width="0.85"/>
<line x1="868.60" y1="328.3" x2="868.60" y2="346.6" stroke="#1a1a1a" stroke-width="1.1"/>
<rect x="866.85" y="334.20" width="3.50" height="8.10" fill="#f0401e" stroke="#000" stroke-width="1.0"/>
<line x1="873.88" y1="305.1" x2="873.88" y2="341.7" stroke="#1a1a1a" stroke-width="1.1"/>
<rect x="872.13" y="308.20" width="3.50" height="30.40" fill="#0aa74f" stroke="#000" stroke-width="1.0"/>
<line x1="879.17" y1="302.8" x2="879.17" y2="319.3" stroke="#1a1a1a" stroke-width="1.1"/>
<rect x="877.42" y="309.60" width="3.50" height="6.70" fill="#f0401e" stroke="#000" stroke-width="1.0"/>
<line x1="884.45" y1="270.2" x2="884.45" y2="323.1" stroke="#1a1a1a" stroke-width="1.1"/>
<rect x="882.70" y="281.90" width="3.50" height="31.80" fill="#0aa74f" stroke="#000" stroke-width="1.0"/>
<line x1="889.73" y1="243.2" x2="889.73" y2="280.0" stroke="#1a1a1a" stroke-width="1.1"/>
<rect x="887.98" y="266.00" width="3.50" height="10.20" fill="#0aa74f" stroke="#000" stroke-width="1.0"/>
<line x1="895.01" y1="268.3" x2="895.01" y2="284.7" stroke="#1a1a1a" stroke-width="1.1"/>
<rect x="893.26" y="275.00" width="3.50" height="5.00" fill="#f0401e" stroke="#000" stroke-width="1.0"/>
<line x1="900.30" y1="235.1" x2="900.30" y2="281.5" stroke="#1a1a1a" stroke-width="1.1"/>
<rect x="898.55" y="236.60" width="3.50" height="42.90" fill="#0aa74f" stroke="#000" stroke-width="1.0"/>
<line x1="905.58" y1="241.1" x2="905.58" y2="270.5" stroke="#1a1a1a" stroke-width="1.1"/>
<rect x="903.83" y="246.00" width="3.50" height="16.70" fill="#f0401e" stroke="#000" stroke-width="1.0"/>
<line x1="910.86" y1="224.3" x2="910.86" y2="257.5" stroke="#1a1a1a" stroke-width="1.1"/>
<rect x="909.11" y="232.70" width="3.50" height="24.00" fill="#0aa74f" stroke="#000" stroke-width="1.0"/>
<line x1="916.14" y1="235.6" x2="916.14" y2="266.2" stroke="#1a1a1a" stroke-width="1.1"/>
<rect x="914.39" y="236.60" width="3.50" height="28.40" fill="#f0401e" stroke="#000" stroke-width="1.0"/>
<line x1="921.43" y1="244.2" x2="921.43" y2="268.3" stroke="#1a1a1a" stroke-width="1.1"/>
<rect x="919.18" y="256.6" width="4.5" height="2.1" fill="#000"/>
<line x1="926.71" y1="250.6" x2="926.71" y2="279.7" stroke="#1a1a1a" stroke-width="1.1"/>
<rect x="924.96" y="252.60" width="3.50" height="22.70" fill="#f0401e" stroke="#000" stroke-width="1.0"/>
<line x1="931.99" y1="256.7" x2="931.99" y2="278.8" stroke="#1a1a1a" stroke-width="1.1"/>
<rect x="930.24" y="259.50" width="3.50" height="16.20" fill="#0aa74f" stroke="#000" stroke-width="1.0"/>
<line x1="937.27" y1="261.9" x2="937.27" y2="312.9" stroke="#1a1a1a" stroke-width="1.1"/>
<rect x="935.52" y="263.40" width="3.50" height="32.70" fill="#f0401e" stroke="#000" stroke-width="1.0"/>
<line x1="942.56" y1="272.2" x2="942.56" y2="301.6" stroke="#1a1a1a" stroke-width="1.1"/>
<rect x="940.81" y="273.60" width="3.50" height="18.50" fill="#0aa74f" stroke="#000" stroke-width="1.0"/>
<line x1="947.84" y1="254.1" x2="947.84" y2="279.7" stroke="#1a1a1a" stroke-width="1.1"/>
<rect x="946.09" y="272.40" width="3.50" height="4.20" fill="#0aa74f" stroke="#000" stroke-width="1.0"/>
<line x1="953.12" y1="252.9" x2="953.12" y2="276.0" stroke="#1a1a1a" stroke-width="1.1"/>
<rect x="951.37" y="263.40" width="3.50" height="4.20" fill="#f0401e" stroke="#000" stroke-width="1.0"/>
<line x1="958.40" y1="258.4" x2="958.40" y2="274.8" stroke="#1a1a1a" stroke-width="1.1"/>
<rect x="956.65" y="265.90" width="3.50" height="7.70" fill="#f0401e" stroke="#000" stroke-width="1.0"/>
<line x1="963.69" y1="265.3" x2="963.69" y2="285.7" stroke="#1a1a1a" stroke-width="1.1"/>
<rect x="961.94" y="268.60" width="3.50" height="5.00" fill="#f0401e" stroke="#000" stroke-width="1.0"/>
<line x1="968.97" y1="260.1" x2="968.97" y2="277.9" stroke="#1a1a1a" stroke-width="1.1"/>
<rect x="966.72" y="272.8" width="4.5" height="2.1" fill="#000"/>
<line x1="974.25" y1="242.0" x2="974.25" y2="297.8" stroke="#1a1a1a" stroke-width="1.1"/>
<rect x="972.50" y="263.80" width="3.50" height="27.10" fill="#f0401e" stroke="#000" stroke-width="1.0"/>
<line x1="979.53" y1="283.5" x2="979.53" y2="299.4" stroke="#1a1a1a" stroke-width="1.1"/>
<rect x="977.78" y="287.10" width="3.50" height="6.40" fill="#f0401e" stroke="#000" stroke-width="1.0"/>
<line x1="984.82" y1="279.1" x2="984.82" y2="301.6" stroke="#1a1a1a" stroke-width="1.1"/>
<rect x="983.07" y="286.80" width="3.50" height="14.00" fill="#f0401e" stroke="#000" stroke-width="1.0"/>
<line x1="990.10" y1="284.9" x2="990.10" y2="302.8" stroke="#1a1a1a" stroke-width="1.1"/>
<rect x="988.35" y="286.30" width="3.50" height="11.90" fill="#0aa74f" stroke="#000" stroke-width="1.0"/>
<rect x="10.5" y="289.3" width="1090" height="2.15" fill="#000"/>
<path d="M100.74,44.1 Q102.44,41.9 104.74,45.3" fill="none" stroke="#0aa74f" stroke-width="1.3"/>
<path d="M813.8774999999999,465 Q815.7774999999999,467.6 817.6774999999999,465" fill="none" stroke="#f0401e" stroke-width="1.3"/>
</g>
<g font-size="12.05" fill="#626262">
<text x="1111.2" y="39.2">20.000</text>
<text x="1111.2" y="90.3">19.000</text>
<text x="1111.2" y="141.3">18.000</text>
<text x="1111.2" y="192.2">17.000</text>
<text x="1111.2" y="243.3">16.000</text>
<text x="1111.2" y="345.7">14.000</text>
<text x="1111.2" y="397.1">13.000</text>
<text x="1111.2" y="448.3">12.000</text>
<text x="1111.2" y="498.9">11.000</text>
<text x="1110.8" y="548.3">200K</text>
</g>
<path d="M1099.4,290.3 L1106.0,280.1 L1151.0,280.1 L1151.0,300.5 L1106.0,300.5 Z" fill="#000"/>
<path d="M1099.4,221.4 L1106.0,211.1 L1151.0,211.1 L1151.0,231.70000000000002 L1106.0,231.70000000000002 Z" fill="#1232f5"/>
<text x="1146.8" y="224.2" font-size="11.8" font-weight="bold" fill="#fff" text-anchor="end">16.353</text>
<path d="M1099.4,264.6 L1106.0,254.3 L1151.0,254.3 L1151.0,274.90000000000003 L1106.0,274.90000000000003 Z" fill="#b0282d"/>
<text x="1146.8" y="267.4" font-size="11.8" font-weight="bold" fill="#fff" text-anchor="end">15.504</text>
<path d="M1099.4,285.9 L1106.0,275.59999999999997 L1151.0,275.59999999999997 L1151.0,296.2 L1106.0,296.2 Z" fill="#0aa74f"/>
<text x="1146.8" y="288.7" font-size="11.8" font-weight="bold" fill="#fff" text-anchor="end">15.090</text>
<path d="M1099.4,567.5 L1106.0,557.2 L1142.8000000000002,557.2 L1142.8000000000002,577.8 L1106.0,577.8 Z" fill="#b040c8"/>
<text x="1138.6000000000001" y="570.3" font-size="11.8" font-weight="bold" fill="#fff" text-anchor="end">132K</text>
<path d="M1099.4,614.5 L1106.0,604.2 L1130.0,604.2 L1130.0,624.8 L1106.0,624.8 Z" fill="#0aa74f"/>
<text x="1125.8" y="617.3" font-size="11.8" font-weight="bold" fill="#fff" text-anchor="end">0K</text>
<defs><clipPath id="cx"><rect x="11" y="626" width="1146" height="22"/></clipPath></defs>
<g font-size="12.4" fill="#626262" text-anchor="middle" clip-path="url(#cx)">
<text x="18.32" y="644">Aug 12</text>
<text x="71.14" y="644">Aug 26</text>
<text x="118.69" y="644">Sep 9</text>
<text x="171.51" y="644">Sep 23</text>
<text x="224.34" y="644">Oct 7</text>
<text x="277.16" y="644">Oct 21</text>
<text x="329.99" y="644">Nov 4</text>
<text x="382.81" y="644">Nov 18</text>
<text x="430.35" y="644">Dec 2</text>
<text x="483.18" y="644">Dec 16</text>
<text x="530.72" y="644">Dec 30</text>
<text x="578.26" y="644">Jan 13</text>
<text x="625.81" y="644">Jan 27</text>
<text x="678.63" y="644">Feb 10</text>
<text x="726.18" y="644">Feb 24</text>
<text x="779.00" y="644">Mar 9</text>
<text x="831.82" y="644">Mar 23</text>
<text x="884.65" y="644">Apr 6</text>
<text x="932.19" y="644">Apr 20</text>
<text x="985.02" y="644">May 4</text>
<text x="1059.20" y="644">May 18</text>
</g>
</svg>
</body></html>
